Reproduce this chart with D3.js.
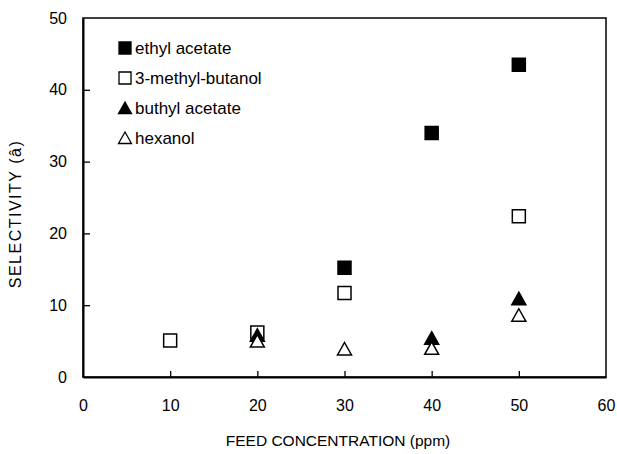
<!DOCTYPE html>
<html>
<head>
<meta charset="utf-8">
<script src="https://cdn.jsdelivr.net/npm/d3@7"></script>
<style>
  body { margin: 0; background: #fff; }
  text { font-family: "Liberation Sans", Arial, sans-serif; fill: #000; }
</style>
</head>
<body>
<svg id="chart" width="617" height="454"></svg>
<script>
// data
var concentrations = [10, 20, 30, 40, 50];
var ethylAcetate = [null, null, 15.2, 34.0, 43.5];
var methylButanol = [5.1, 6.2, 11.7, null, 22.4];
var buthylAcetate = [null, 5.8, null, 5.4, 10.9];
var hexanol = [null, 5.0, 3.9, 4.0, 8.6];
var xTicks = [0, 10, 20, 30, 40, 50, 60];
var yTicks = [0, 10, 20, 30, 40, 50];

var series = [
  { name: "ethyl acetate", values: ethylAcetate, shape: "square", filled: true },
  { name: "3-methyl-butanol", values: methylButanol, shape: "square", filled: false },
  { name: "buthyl acetate", values: buthylAcetate, shape: "triangle", filled: true },
  { name: "hexanol", values: hexanol, shape: "triangle", filled: false }
];

var svg = d3.select("#chart");
var plotLeft = 83, plotRight = 606, plotTop = 18, plotBottom = 377;

var x = d3.scaleLinear().domain([0, 60]).range([plotLeft, plotRight]);
var y = d3.scaleLinear().domain([0, 50]).range([plotBottom, plotTop]);

// marker path centred at 0,0
function marker(shape, s) {
  var h = s / 2;
  if (shape === "square") {
    return "M" + (-h) + "," + (-h) + "H" + h + "V" + h + "H" + (-h) + "Z";
  }
  return "M0," + (-h) + "L" + (h + 0.5) + "," + (h - 0.5) + "L" + (-h - 0.5) + "," + (h - 0.5) + "Z";
}

// frame
svg.append("rect")
  .attr("x", plotLeft).attr("y", plotTop)
  .attr("width", plotRight - plotLeft).attr("height", plotBottom - plotTop)
  .attr("fill", "none").attr("stroke", "#000").attr("stroke-width", 1.5);

// axes with inward ticks
var xAxis = svg.append("g")
  .attr("transform", "translate(0," + plotBottom + ")")
  .call(d3.axisBottom(x).tickValues(xTicks).tickSizeInner(-6).tickSizeOuter(0).tickPadding(23));
var yAxis = svg.append("g")
  .attr("transform", "translate(" + plotLeft + ",0)")
  .call(d3.axisLeft(y).tickValues(yTicks).tickSizeInner(-7).tickSizeOuter(0).tickPadding(16));

[xAxis, yAxis].forEach(function(a) {
  a.select(".domain").attr("stroke", "#000").attr("stroke-width", 2);
  a.selectAll(".tick line").attr("stroke", "#000").attr("stroke-width", 1.3);
  a.selectAll(".tick text")
    .style("font-family", "'Liberation Sans', Arial, sans-serif")
    .style("font-size", "16px").attr("fill", "#000");
});
// no tick marks on the frame corners
xAxis.selectAll(".tick").filter(function(d) { return d === 0 || d === 60; }).select("line").remove();
yAxis.selectAll(".tick").filter(function(d) { return d === 0 || d === 50; }).select("line").remove();

// axis titles
svg.append("text")
  .attr("x", 338).attr("y", 446)
  .attr("text-anchor", "middle")
  .style("font-size", "15.5px")
  .text("FEED CONCENTRATION (ppm)");
svg.append("text")
  .attr("transform", "translate(21,214) rotate(-90)")
  .attr("text-anchor", "middle")
  .style("font-size", "16px")
  .style("letter-spacing", "1.5px")
  .text("SELECTIVITY (â)");

// points
series.forEach(function(s) {
  var pts = concentrations
    .map(function(c, i) { return { c: c, v: s.values[i] }; })
    .filter(function(d) { return d.v !== null; });
  svg.append("g").selectAll("path")
    .data(pts)
    .enter()
    .append("path")
    .attr("d", marker(s.shape, 13))
    .attr("transform", function(d) { return "translate(" + x(d.c) + "," + y(d.v) + ")"; })
    .attr("fill", s.filled ? "#000" : "#fff")
    .attr("stroke", "#000")
    .attr("stroke-width", 1.5);
});

// legend
var legend = svg.append("g").selectAll("g")
  .data(series)
  .enter()
  .append("g")
  .attr("transform", function(d, i) { return "translate(125," + (48 + i * 30) + ")"; });
legend.append("path")
  .attr("d", function(d) { return marker(d.shape, 12); })
  .attr("fill", function(d) { return d.filled ? "#000" : "#fff"; })
  .attr("stroke", "#000")
  .attr("stroke-width", 1.3);
legend.append("text")
  .attr("x", 10).attr("y", 6)
  .style("font-size", "17px")
  .text(function(d) { return d.name; });
</script>
</body>
</html>
